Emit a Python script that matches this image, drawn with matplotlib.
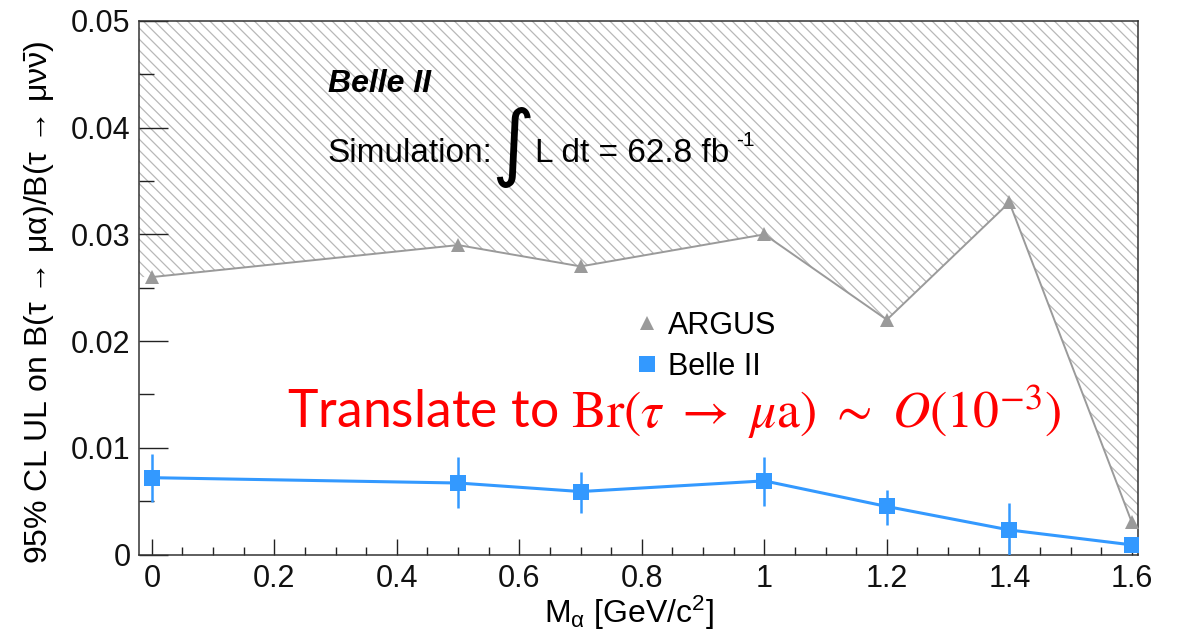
import matplotlib
matplotlib.use("Agg")
import matplotlib.pyplot as plt
from matplotlib.lines import Line2D
import numpy as np

plt.rcParams['font.family'] = ['Liberation Sans', 'DejaVu Sans']
plt.rcParams['mathtext.fontset'] = 'custom'
plt.rcParams['mathtext.rm'] = 'Liberation Sans'
plt.rcParams['mathtext.it'] = 'Liberation Sans:italic'
plt.rcParams['mathtext.bf'] = 'Liberation Sans:bold'
plt.rcParams['hatch.color'] = '#b8b8b8'
plt.rcParams['hatch.linewidth'] = 0.9

# ---- data -------------------------------------------------------------
mass = [0.0, 0.5, 0.7, 1.0, 1.2, 1.4, 1.6]              # M_alpha [GeV/c^2]
argus_ul = [0.026, 0.029, 0.027, 0.030, 0.022, 0.033, 0.003]
belle2_ul = [0.0072, 0.0067, 0.0059, 0.0069, 0.0045, 0.0023, 0.0009]
belle2_err_up = [0.0022, 0.0024, 0.0018, 0.0022, 0.0015, 0.0025, 0.0004]
belle2_err_dn = [0.0023, 0.0023, 0.0020, 0.0024, 0.0017, 0.0023, 0.0004]

x_ticks = [0, 0.2, 0.4, 0.6, 0.8, 1.0, 1.2, 1.4, 1.6]
x_tick_labels = ['0', '0.2', '0.4', '0.6', '0.8', '1', '1.2', '1.4', '1.6']
y_ticks = [0, 0.01, 0.02, 0.03, 0.04, 0.05]
y_tick_labels = ['0', '0.01', '0.02', '0.03', '0.04', '0.05']

W, H = 1178, 638
grey = '#9a9a9a'
azure = '#3399ff'


def fpos(x, y):
    """pixel position (from top-left) -> figure fraction"""
    return x / W, 1 - y / H


fig = plt.figure(figsize=(W / 100, H / 100), dpi=100)
ax = fig.add_axes([139 / W, 1 - 554.5 / H, (1138 - 139) / W, (554.5 - 21) / H])

xlo, xhi = -0.021, 1.61
ylo, yhi = 0.0, 0.05
ax.set_xlim(xlo, xhi)
ax.set_ylim(ylo, yhi)

# excluded region above the ARGUS limit (hatched)
fx = np.concatenate([[xlo], mass, [xhi]])
fy = np.concatenate([[argus_ul[0]], argus_ul, [argus_ul[-1]]])
ax.fill_between(fx, fy, yhi, facecolor='none', edgecolor='#b8b8b8',
                hatch='\\\\\\', linewidth=0, zorder=1)

# ARGUS limit
ax.plot(mass, argus_ul, color=grey, lw=1.4, marker='^', ms=10,
        markeredgewidth=0, zorder=3)

# Belle II expected limit
ax.errorbar(mass, belle2_ul, yerr=[belle2_err_dn, belle2_err_up], color=azure,
            lw=2.2, elinewidth=1.8, capsize=2.5, capthick=1.8,
            marker='s', ms=12, markeredgewidth=0, zorder=4, clip_on=True)

# axes cosmetics (inward ticks, left/bottom only)
ax.set_xticks(x_ticks)
ax.set_xticklabels(x_tick_labels)
ax.set_yticks(y_ticks)
ax.set_yticklabels(y_tick_labels)
ax.set_xticks(np.arange(0, 1.6001, 0.05), minor=True)
ax.set_yticks(np.arange(0, 0.0501, 0.005), minor=True)
ax.tick_params(axis='both', which='both', direction='in', colors='#222222',
               labelcolor='#111111', labelsize=22, width=1.0)
ax.tick_params(axis='y', which='major', length=21, pad=6)
ax.tick_params(axis='y', which='minor', length=11)
ax.tick_params(axis='x', which='major', length=11.5, pad=7)
ax.tick_params(axis='x', which='minor', length=6)
for s in ax.spines.values():
    s.set_linewidth(1.1)
    s.set_color('#333333')

ax.set_xlabel(r'M$_{\mathrm{\alpha}}$ [GeV/c$^{2}$]', fontsize=23)
ax.xaxis.set_label_coords(0.49, -0.074)
ax.set_ylabel(r'95% CL UL on B(τ → μα)/B(τ → μν$\mathrm{\bar{\nu}}$)', fontsize=23)
ax.yaxis.set_label_coords(-0.082, 0.473)

# legend
handles = [
    Line2D([], [], ls='none', marker='^', ms=10, color=grey, markeredgewidth=0),
    Line2D([], [], ls='none', marker='s', ms=12, color=azure, markeredgewidth=0),
]
ax.legend(handles, ['ARGUS', 'Belle II'], loc='upper left',
          bbox_to_anchor=fpos(636, 311), bbox_transform=fig.transFigure,
          frameon=False, fontsize=22, handlelength=0.7, handletextpad=0.35,
          labelspacing=0.35, borderpad=0, borderaxespad=0)

# experiment label
fig.text(*fpos(328, 92), 'Belle II', fontsize=23, fontweight='bold',
         style='italic', va='baseline')
fig.text(*fpos(327, 162), 'Simulation:', fontsize=24, va='baseline')
fig.text(*fpos(513, 147), '∫', fontsize=60, family=['DejaVu Sans'],
         ha='center', va='center')
fig.text(*fpos(535, 162), 'L dt = 62.8 fb', fontsize=24, va='baseline')
fig.text(*fpos(736, 146), '-1', fontsize=15, va='baseline')

# annotation
fig.text(*fpos(287, 428),
         r'Translate to $\mathrm{Br}(\tau\ \rightarrow\ \mu\mathrm{a})\ \sim\ O(10^{-3})$',
         fontsize=37.3, color='#ff0000', family='Lato', math_fontfamily='stix',
         va='baseline')

fig.savefig('out.png', dpi=100)
